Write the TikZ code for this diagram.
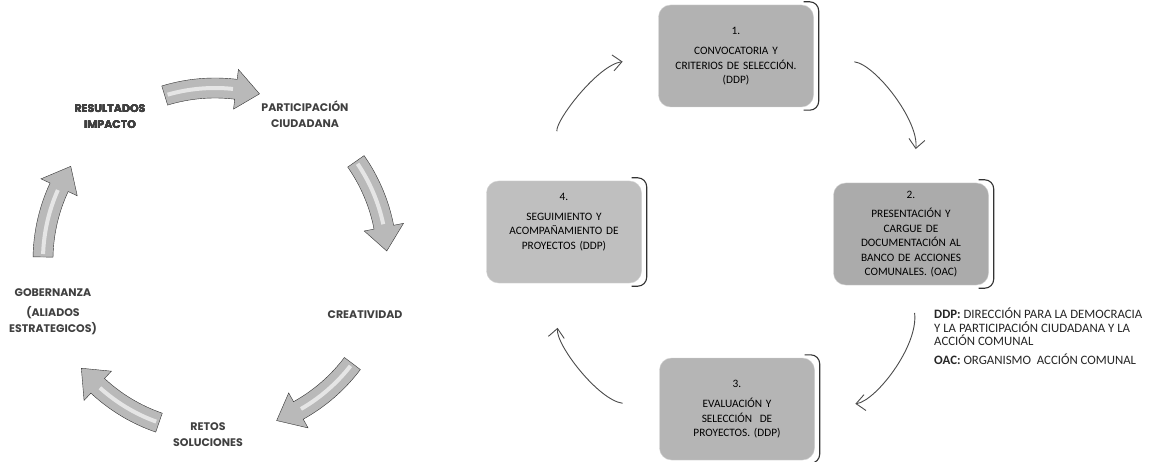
\documentclass[tikz,border=0pt]{standalone}
\usepackage{fontspec}
\setmainfont{Carlito}
\newfontfamily\gothic{Poppins}
\usetikzlibrary{
    arrows.meta,
    calc,
    positioning
}
\tikzset{
    stepbox/.style={rectangle, rounded corners=12pt, draw=gray!35, minimum width=155pt,
        minimum height=102pt, text width=152pt, align=center, inner sep=1pt,
        font=\fontsize{11.3}{14.5}\selectfont, text=black},
    phase/.style={align=center, font=\gothic\bfseries\fontsize{11}{16}\selectfont, text=black!75},
    cyc/.style={-{Straight Barb[length=9pt,width=16pt]}, draw=black!70, line width=0.9pt, bend left=45},
    legend/.style={align=left, font=\fontsize{12.8}{13.5}\selectfont, text=black!85, inner sep=0pt}
}
\newcommand{\cycarrow}[2]{
    \fill[gray!55, draw=gray!40!black, line width=0.4pt]
        ($(c) + (#1:182)$) arc[start angle=#1, end angle=#2-8, radius=182]
        -- ($(c) + (#2-8:192)$) -- ($(c) + (#2:172)$) -- ($(c) + (#2-8:152)$)
        -- ($(c) + (#2-8:162)$) arc[start angle=#2-8, end angle=#1, radius=162] -- cycle;
    \draw[gray!20, line width=4pt] ($(c) + (#1+1:172)$) arc[start angle=#1+1, end angle=#2-9, radius=172];
}
\begin{document}
\begin{tikzpicture}[x=1pt, y=-1pt]
    \fill[white] (0,0) rectangle (1166,462);
    \useasboundingbox (0,0) rectangle (1166,462);
    \coordinate (c) at (215,260);
    \foreach \s in {-107,-35,37,109,181}
        \cycarrow{\s}{\s+32}
    \node[phase] (l1) at (110,117) {RESULTADOS\\IMPACTO};
    \node[phase] (l2) at (305,114) {PARTICIPACIÓN\\CIUDADANA};
    \node[phase] (l3) at (365,315) {CREATIVIDAD};
    \node[phase] (l4) at (208,435) {RETOS\\SOLUCIONES};
    \node[phase] (l5) at (53,312) {GOBERNANZA\\[4pt](ALIADOS\\ESTRATEGICOS)};

    \node[stepbox, fill=gray!60] (b1) at (736,56) {1.\\[6pt]CONVOCATORIA Y\\CRITERIOS DE SELECCIÓN.\\(DDP)};
    \node[stepbox, fill=gray!66] (b2) at (911,234) {2.\\[5pt]PRESENTACIÓN Y\\CARGUE DE\\DOCUMENTACIÓN AL\\BANCO DE ACCIONES\\COMUNALES.\ (OAC)};
    \node[stepbox, fill=gray!58] (b3) at (737,409) {3.\\[6pt]EVALUACIÓN Y\\SELECCIÓN\ \ DE\\PROYECTOS.\ (DDP)};
    \node[stepbox, fill=gray!50] (b4) at (564,232) {4.\\[5pt]SEGUIMIENTO Y\\ACOMPAÑAMIENTO DE\\PROYECTOS (DDP)\\[7pt]\mbox{}};
    \foreach \b in {b1,b2,b3,b4}
        \draw[line width=1.1pt, black!80, rounded corners=9pt]
            ([xshift=-10pt,yshift=3pt]\b.north east) -- ([xshift=5pt,yshift=3pt]\b.north east)
            -- ([xshift=5pt,yshift=-3pt]\b.south east) -- ([xshift=-10pt,yshift=-3pt]\b.south east);

    \draw[cyc, shorten <=41pt, shorten >=34pt] (b1) to (b2);
    \draw[cyc, shorten <=28pt, shorten >=41pt] (b2) to (b3);
    \draw[cyc, shorten <=37pt, shorten >=45pt] (b3) to (b4);
    \draw[cyc, shorten <=50pt, shorten >=36pt] (b4) to (b1);

    \node[legend, anchor=north west] (leg) at (934,308) {\textbf{DDP:} DIRECCIÓN PARA LA DEMOCRACIA\\Y LA PARTICIPACIÓN CIUDADANA Y LA\\ACCIÓN COMUNAL\\[5pt]\textbf{OAC:} ORGANISMO\ \ ACCIÓN COMUNAL};
\end{tikzpicture}
\end{document}
